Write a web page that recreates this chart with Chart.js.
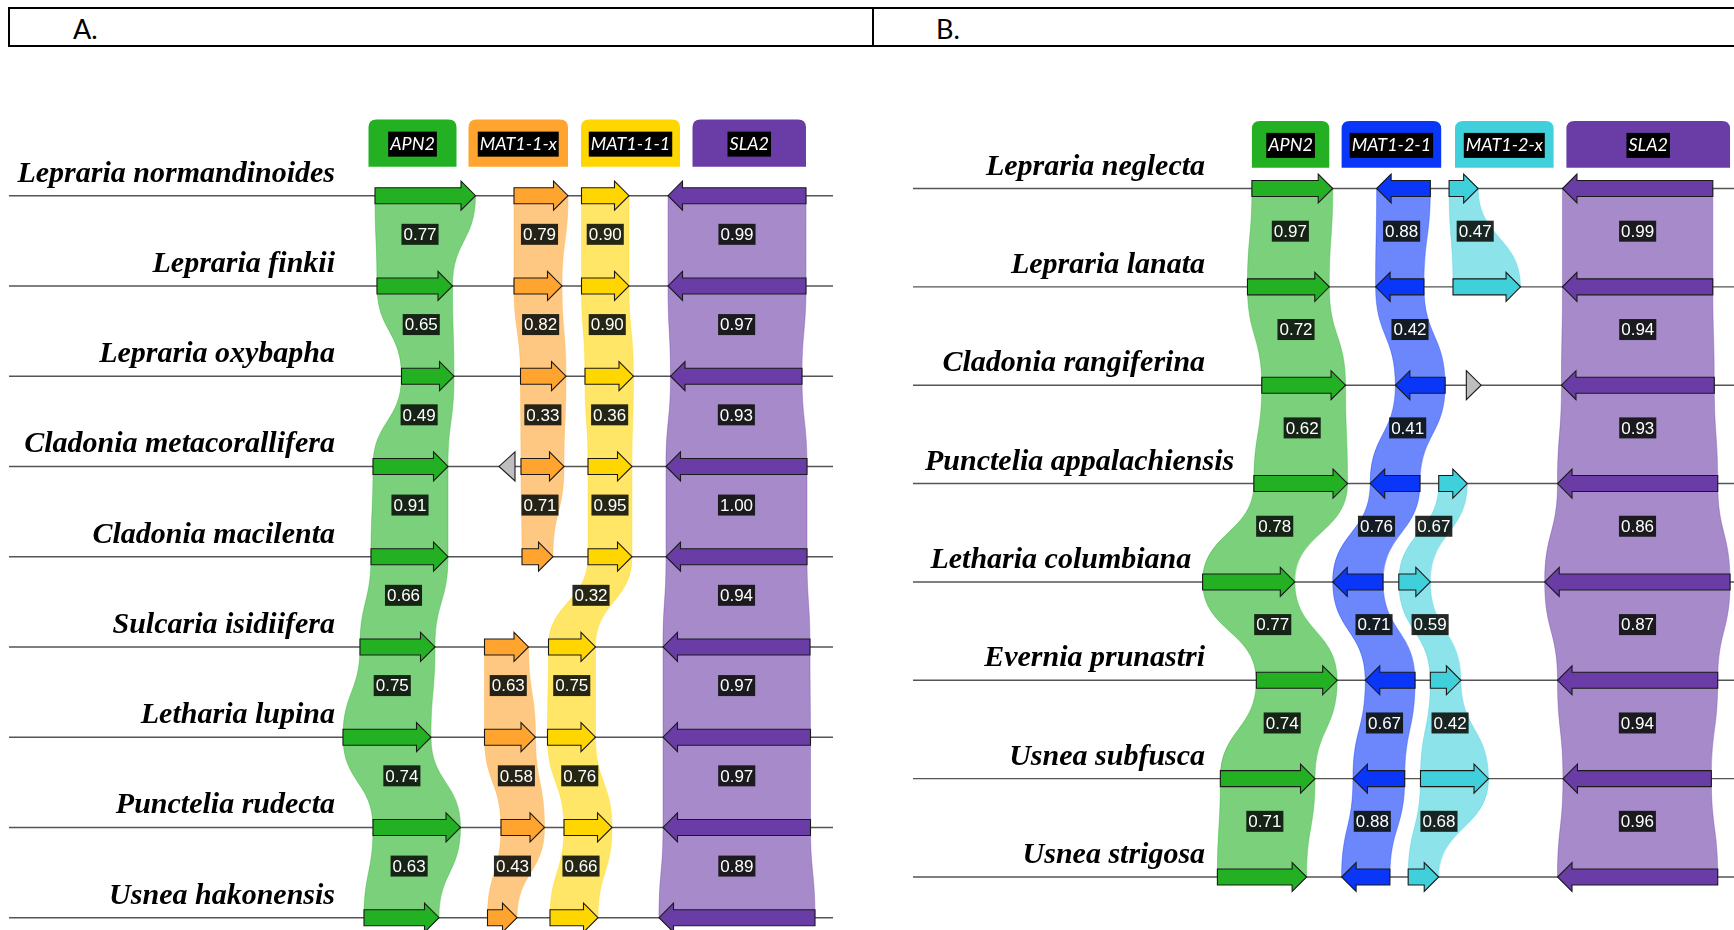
<!DOCTYPE html>
<html>
<head>
<meta charset="utf-8">
<title>Mating-type locus synteny</title>
<script src="https://cdn.jsdelivr.net/npm/chart.js@4.4.1/dist/chart.umd.min.js"></script>
<style>
  html, body { margin: 0; padding: 0; background: #fff; width: 1734px; height: 930px; overflow: hidden; }
  #frame { position: absolute; left: 8px; top: 7px; width: 1760px; height: 36px; border: 2px solid #000; box-sizing: content-box; }
  #divider { position: absolute; left: 862px; top: 0; width: 1.5px; height: 36px; background: #000; }
  .panel-tag { position: absolute; top: 3px; font: 27px Lato, "Open Sans", sans-serif; color: #000; }
  canvas { position: absolute; left: 0; top: 0; }
</style>
</head>
<body>
<div id="frame">
  <div class="panel-tag" style="left:63px">A.</div>
  <div id="divider"></div>
  <div class="panel-tag" style="left:926px">B.</div>
</div>
<canvas id="panelA" width="1734" height="930"></canvas>
<canvas id="panelB" width="1734" height="930"></canvas>
<script>
// ---------- Panel A: MAT1-1 idiomorph (positions in kb along each locus) ----------
const speciesA = ['Lepraria normandinoides', 'Lepraria finkii', 'Lepraria oxybapha',
  'Cladonia metacorallifera', 'Cladonia macilenta', 'Sulcaria isidiifera',
  'Letharia lupina', 'Punctelia rudecta', 'Usnea hakonensis'];
const genesA = ['APN2', 'MAT1-1-x', 'MAT1-1-1', 'SLA2'];
const strandA = [1, 1, 1, -1];
const apn2A   = [[7.32, 9.33], [7.36, 8.87], [7.85, 8.90], [7.28, 8.78], [7.24, 8.78], [7.02, 8.52], [6.68, 8.44], [7.28, 9.03], [7.10, 8.60]];
const mat11xA = [[10.10, 11.18], [10.10, 11.06], [10.23, 11.14], [10.24, 11.10], [10.26, 10.88], [9.51, 10.39], [9.51, 10.53], [9.84, 10.71], [9.57, 10.16]];
const mat111A = [[11.45, 12.40], [11.45, 12.40], [11.52, 12.49], [11.58, 12.46], [11.58, 12.46], [10.79, 11.73], [10.77, 11.73], [11.10, 12.06], [10.82, 11.78]];
const sla2A   = [[13.18, 15.94], [13.18, 15.94], [13.23, 15.86], [13.14, 15.96], [13.14, 15.96], [13.08, 16.02], [13.08, 16.03], [13.08, 16.03], [13.00, 16.12]];
// identity between neighbouring loci (row i vs row i+1); null = no link
const identApn2A   = [0.77, 0.65, 0.49, 0.91, 0.66, 0.75, 0.74, 0.63];
const identMat11xA = [0.79, 0.82, 0.33, 0.71, null, 0.63, 0.58, 0.43];
const identMat111A = [0.90, 0.90, 0.36, 0.95, 0.32, 0.75, 0.76, 0.66];
const identSla2A   = [0.99, 0.97, 0.93, 1.00, 0.94, 0.97, 0.97, 0.89];
// unassigned ORFs
const otherA = [{ row: 3, start: 9.80, end: 10.12, strand: -1 }];

// ---------- Panel B: MAT1-2 idiomorph ----------
const speciesB = ['Lepraria neglecta', 'Lepraria lanata', 'Cladonia rangiferina',
  'Punctelia appalachiensis', 'Letharia columbiana', 'Evernia prunastri',
  'Usnea subfusca', 'Usnea strigosa'];
const genesB = ['APN2', 'MAT1-2-1', 'MAT1-2-x', 'SLA2'];
const strandB = [1, -1, 1, -1];
const apn2B   = [[6.78, 8.42], [6.69, 8.35], [6.98, 8.68], [6.82, 8.72], [5.78, 7.65], [6.87, 8.51], [6.14, 8.06], [6.08, 7.89]];
const mat121B = [[9.31, 10.40], [9.29, 10.27], [9.69, 10.70], [9.18, 10.19], [8.42, 9.44], [9.08, 10.09], [8.83, 9.88], [8.60, 9.58]];
const mat12xB = [[10.78, 11.37], [10.86, 12.23], null, [10.57, 11.15], [9.76, 10.40], [10.40, 11.02], [10.20, 11.58], [9.95, 10.57]];
const sla2B   = [[13.08, 16.13], [13.08, 16.13], [13.06, 16.16], [12.98, 16.23], [12.72, 16.48], [12.98, 16.23], [13.09, 16.10], [12.98, 16.23]];
const identApn2B   = [0.97, 0.72, 0.62, 0.78, 0.77, 0.74, 0.71];
const identMat121B = [0.88, 0.42, 0.41, 0.76, 0.71, 0.67, 0.88];
const identMat12xB = [0.47, null, null, 0.67, 0.59, 0.42, 0.68];
const identSla2B   = [0.99, 0.94, 0.93, 0.86, 0.87, 0.94, 0.96];
const otherB = [{ row: 2, start: 11.13, end: 11.43, strand: 1 }];

// ---------- styling ----------
const geneColour = {
  'APN2': [35, 176, 35], 'MAT1-1-x': [255, 164, 46], 'MAT1-1-1': [255, 214, 0],
  'SLA2': [106, 60, 166], 'MAT1-2-1': [10, 54, 248], 'MAT1-2-x': [64, 208, 220]
};
const otherColour = [190, 190, 190];
const rgb = (c, a) => a === undefined ? `rgb(${c[0]},${c[1]},${c[2]})` : `rgba(${c[0]},${c[1]},${c[2]},${a})`;

const layoutA = {
  xMin: 0, xMax: 16.48, pad: { left: 9, right: 901, top: 195.7, bottom: 12.3 },
  labelRight: [6.52, 6.52, 6.52, 6.52, 6.52, 6.52, 6.52, 6.52, 6.52],
  headerSpan: [[7.19, 8.95], [9.19, 11.18], [11.44, 13.42], [13.67, 15.94]],
  headerTop: 119.5, headerBottom: 166.8
};
const layoutB = {
  xMin: -0.095, xMax: 16.56, pad: { left: 913, right: 0, top: 188.5, bottom: 53 },
  labelRight: [5.83, 5.83, 5.83, 6.42, 5.55, 5.83, 5.83, 5.83],
  headerSpan: [[6.78, 8.35], [8.60, 10.62], [10.90, 12.90], [13.16, 16.48]],
  headerTop: 121, headerBottom: 167.8
};

const ARROW = { body: 8, head: 14.5, headLen: 14.5 };

function arrowPath(ctx, x1, x2, y, strand) {
  const len = x2 - x1;
  const b = ARROW.body, h = ARROW.head;
  ctx.beginPath();
  if (len < ARROW.headLen + 4) {
    // head only
    if (strand > 0) { ctx.moveTo(x1, y - h); ctx.lineTo(x2, y); ctx.lineTo(x1, y + h); }
    else { ctx.moveTo(x2, y - h); ctx.lineTo(x1, y); ctx.lineTo(x2, y + h); }
  } else if (strand > 0) {
    const hb = x2 - ARROW.headLen;
    ctx.moveTo(x1, y - b); ctx.lineTo(hb, y - b); ctx.lineTo(hb, y - h); ctx.lineTo(x2, y);
    ctx.lineTo(hb, y + h); ctx.lineTo(hb, y + b); ctx.lineTo(x1, y + b);
  } else {
    const hb = x1 + ARROW.headLen;
    ctx.moveTo(x2, y - b); ctx.lineTo(hb, y - b); ctx.lineTo(hb, y - h); ctx.lineTo(x1, y);
    ctx.lineTo(hb, y + h); ctx.lineTo(hb, y + b); ctx.lineTo(x2, y + b);
  }
  ctx.closePath();
}

function roundTopRect(ctx, x1, y1, x2, y2, r) {
  ctx.beginPath();
  ctx.moveTo(x1, y2); ctx.lineTo(x1, y1 + r); ctx.quadraticCurveTo(x1, y1, x1 + r, y1);
  ctx.lineTo(x2 - r, y1); ctx.quadraticCurveTo(x2, y1, x2, y1 + r); ctx.lineTo(x2, y2);
  ctx.closePath();
}

const syntenyPlugin = {
  id: 'synteny',
  afterDraw(chart) {
    const p = chart.options.plugins.synteny;
    const ctx = chart.ctx, xs = chart.scales.x, ys = chart.scales.y;
    const X = v => xs.getPixelForValue(v), Y = v => ys.getPixelForValue(v);
    const area = chart.chartArea;
    ctx.save();

    // links between neighbouring loci
    p.tracks.forEach(t => {
      const col = geneColour[t.gene];
      t.ident.forEach((val, i) => {
        const a = t.pos[i], b = t.pos[i + 1];
        if (val === null || !a || !b) return;
        const y1 = Y(i), y2 = Y(i + 1), ym = (y1 + y2) / 2;
        const a1 = X(a[0]), a2 = X(a[1]), b1 = X(b[0]), b2 = X(b[1]);
        ctx.beginPath();
        ctx.moveTo(a1, y1);
        ctx.bezierCurveTo(a1, ym, b1, ym, b1, y2);
        ctx.lineTo(b2, y2);
        ctx.bezierCurveTo(b2, ym, a2, ym, a2, y1);
        ctx.closePath();
        ctx.fillStyle = rgb(col, 0.6);
        ctx.fill();
        ctx.strokeStyle = rgb(col, 0.45);
        ctx.lineWidth = 0.8;
        ctx.stroke();
      });
    });

    // locus backbones
    ctx.strokeStyle = '#555';
    ctx.lineWidth = 1.4;
    p.species.forEach((s, i) => {
      ctx.beginPath();
      ctx.moveTo(area.left, Y(i)); ctx.lineTo(area.right, Y(i));
      ctx.stroke();
    });

    // genes
    ctx.lineWidth = 1.1;
    ctx.strokeStyle = '#1a1a1a';
    ctx.lineJoin = 'miter';
    p.tracks.forEach(t => {
      t.pos.forEach((g, i) => {
        if (!g) return;
        arrowPath(ctx, X(g[0]), X(g[1]), Y(i), t.strand);
        ctx.fillStyle = rgb(geneColour[t.gene]);
        ctx.fill(); ctx.stroke();
      });
    });
    p.other.forEach(o => {
      arrowPath(ctx, X(o.start), X(o.end), Y(o.row), o.strand);
      ctx.fillStyle = rgb(otherColour);
      ctx.fill(); ctx.stroke();
    });

    // identity values
    ctx.font = '17px "Liberation Sans", Arial, sans-serif';
    ctx.textAlign = 'center';
    ctx.textBaseline = 'middle';
    p.tracks.forEach(t => {
      t.ident.forEach((val, i) => {
        const a = t.pos[i], b = t.pos[i + 1];
        if (val === null || !a || !b) return;
        const cx = (X(a[0]) + X(a[1]) + X(b[0]) + X(b[1])) / 4;
        const cy = (Y(i) + Y(i + 1)) / 2 - 6.5;
        const txt = val.toFixed(2);
        const w = ctx.measureText(txt).width + 4;
        ctx.fillStyle = 'rgba(8,12,8,0.88)';
        ctx.fillRect(cx - w / 2, cy - 10.5, w, 21);
        ctx.fillStyle = '#fff';
        ctx.fillText(txt, cx, cy + 1);
      });
    });

    // species names
    ctx.font = 'italic bold 30px "Liberation Serif", "DejaVu Serif", serif';
    ctx.textAlign = 'right';
    ctx.textBaseline = 'alphabetic';
    ctx.fillStyle = '#000';
    p.species.forEach((s, i) => {
      ctx.fillText(s, X(p.layout.labelRight[i]), Y(i) - 14);
    });

    // gene key boxes
    const L = p.layout;
    p.genes.forEach((g, k) => {
      const [s, e] = L.headerSpan[k];
      const x1 = X(s), x2 = X(e);
      roundTopRect(ctx, x1, L.headerTop, x2, L.headerBottom, 8);
      ctx.fillStyle = rgb(geneColour[g]);
      ctx.fill();
      ctx.font = 'italic 18px Lato, "Open Sans", sans-serif';
      ctx.textAlign = 'center';
      ctx.textBaseline = 'middle';
      const cx = (x1 + x2) / 2, cy = (L.headerTop + L.headerBottom) / 2 + 1;
      const w = ctx.measureText(g).width + 4;
      ctx.fillStyle = '#000';
      ctx.fillRect(cx - w / 2, cy - 12.5, w, 25);
      ctx.fillStyle = '#fff';
      ctx.fillText(g, cx, cy);
    });

    ctx.restore();
  }
};

function buildPanel(canvasId, species, genes, strands, positions, idents, other, layout) {
  const tracks = genes.map((g, k) => ({ gene: g, strand: strands[k], pos: positions[k], ident: idents[k] }));
  return new Chart(document.getElementById(canvasId), {
    type: 'scatter',
    data: { datasets: [{ data: species.map((s, i) => ({ x: 0, y: i })), pointRadius: 0, showLine: false }] },
    options: {
      responsive: false,
      animation: false,
      events: [],
      layout: { padding: layout.pad },
      scales: {
        x: { type: 'linear', min: layout.xMin, max: layout.xMax, display: false },
        y: { type: 'linear', min: 0, max: species.length - 1, reverse: true, display: false }
      },
      plugins: {
        legend: { display: false },
        tooltip: { enabled: false },
        synteny: { species, genes, tracks, other, layout }
      }
    },
    plugins: [syntenyPlugin]
  });
}

buildPanel('panelA', speciesA, genesA, strandA,
  [apn2A, mat11xA, mat111A, sla2A],
  [identApn2A, identMat11xA, identMat111A, identSla2A], otherA, layoutA);
buildPanel('panelB', speciesB, genesB, strandB,
  [apn2B, mat121B, mat12xB, sla2B],
  [identApn2B, identMat121B, identMat12xB, identSla2B], otherB, layoutB);
</script>
</body>
</html>
